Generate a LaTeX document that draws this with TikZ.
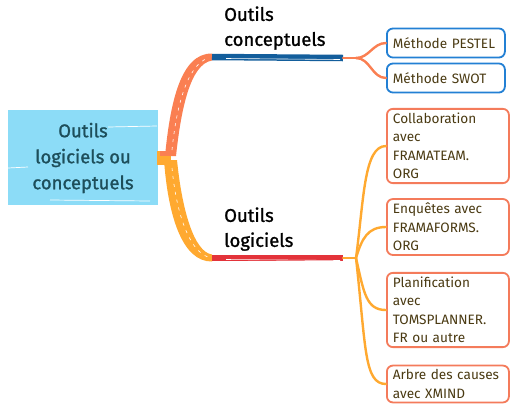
\documentclass[tikz,border=0pt]{standalone}
\usepackage{fontspec}
\setmainfont{Fira Sans}
\newfontfamily\medfont[FakeBold=1.2]{Fira Sans}
\definecolor{rootfill}{HTML}{8CDCF7}
\definecolor{roottext}{HTML}{1D4E5A}
\definecolor{coralbr}{HTML}{FA7F52}
\definecolor{amberbr}{HTML}{FFA930}
\definecolor{ulblue}{HTML}{135E9C}
\definecolor{ulred}{HTML}{E3333A}
\definecolor{boxblue}{HTML}{2380D4}
\definecolor{boxcoral}{HTML}{F47B5B}
\definecolor{leaftext}{HTML}{4A3A12}
\begin{document}
\begin{tikzpicture}[x=1pt,y=-1pt,
    topic/.style={anchor=south west,align=left,inner sep=0pt,
        font=\medfont\fontsize{18.5}{25}\selectfont},
    leaf/.style={anchor=west,align=left,fill=white,line width=1.8pt,
        rounded corners=6pt,inner xsep=6pt,inner ysep=4pt,text=leaftext,
        font=\fontsize{13.6}{18.5}\selectfont},
    leafblue/.style={leaf,draw=boxblue,text width=106pt,minimum height=29pt},
    leafcoral/.style={leaf,draw=boxcoral,text width=110pt},
    twig/.style={line width=2.4pt,line cap=round}]
    \useasboundingbox (0,0) rectangle (511,416);

    % root
    \fill[rootfill] (8,110) rectangle (158,205);
    \draw[white,line width=0.7pt] (108,127) -- (157,126) (8,168) -- (28,167) (50,200) -- (150,201);
    \node[align=center,text=roottext,inner sep=0pt,
        font=\medfont\fontsize{18.5}{26}\selectfont] (root) at (83,158)
        {Outils\\logiciels ou\\conceptuels};
    \coordinate (hub) at (164,158);

    % branches
    \fill[coralbr] (165,156) .. controls (170,105) and (180,53) .. (212,53.5)
        -- (212,60.5) .. controls (190,64) and (181,110) .. (176,156) -- cycle;
    \fill[amberbr] (164,160) .. controls (168,215) and (182,262) .. (212,261.5)
        -- (212,254.5) .. controls (194,252) and (182,210) .. (177,160) -- cycle;
    \draw[white,line width=0.6pt,dash pattern=on 3pt off 5pt]
        (172,150) .. controls (176,110) and (186,66) .. (208,58);
    \draw[white,line width=0.6pt,dash pattern=on 3pt off 5pt]
        (172,168) .. controls (176,210) and (188,250) .. (208,257);
    \fill[amberbr] (157,151) rectangle (171,165);
    \fill[coralbr] (160,151) rectangle (171,156);

    % topics
    \node[topic] (conc) at (224,50) {Outils\\conceptuels};
    \node[topic] (logi) at (224,251) {Outils\\logiciels};
    \coordinate (ulc) at (343,58);
    \coordinate (ull) at (343,258);
    \coordinate (splitc) at (356,58);
    \coordinate (splitl) at (356,258);
    \draw[ulblue,line width=6.5pt] (212,57) -- (ulc);
    \draw[white,line width=0.6pt] (226,58.5) -- (340,59.5);
    \draw[ulred,line width=6.5pt] (212,258) -- (ull);
    \draw[white,line width=0.6pt] (226,259.5) -- (340,260.5);

    % leaves
    \node[leafblue] (pestel) at (386,43) {Méthode PESTEL};
    \node[leafblue] (swot) at (386,78) {Méthode SWOT};
    \node[leafcoral] (collab) at (386,146) {Collaboration\\avec\\FRAMATEAM.\\ORG};
    \node[leafcoral] (enq) at (386,227) {Enquêtes avec\\FRAMAFORMS.\\ORG};
    \node[leafcoral] (plan) at (386,310) {Planification\\avec\\TOMSPLANNER.\\FR ou autre};
    \node[leafcoral] (arbre) at (386,384) {Arbre des causes\\avec XMIND};

    % twigs
    \draw[twig,coralbr] (ulc) -- (splitc);
    \draw[twig,coralbr] (splitc) to[out=0,in=180] (pestel.west);
    \draw[twig,coralbr] (splitc) to[out=0,in=180] (swot.west);
    \draw[twig,amberbr] (ull) -- (splitl);
    \draw[twig,amberbr] (splitl) .. controls +(8,-60) and +(-22,0) .. (collab.west);
    \draw[twig,amberbr] (splitl) .. controls +(6,-20) and +(-18,0) .. (enq.west);
    \draw[twig,amberbr] (splitl) .. controls +(8,35) and +(-20,0) .. (plan.west);
    \draw[twig,amberbr] (splitl) .. controls +(10,90) and +(-22,0) .. (arbre.west);
\end{tikzpicture}
\end{document}
